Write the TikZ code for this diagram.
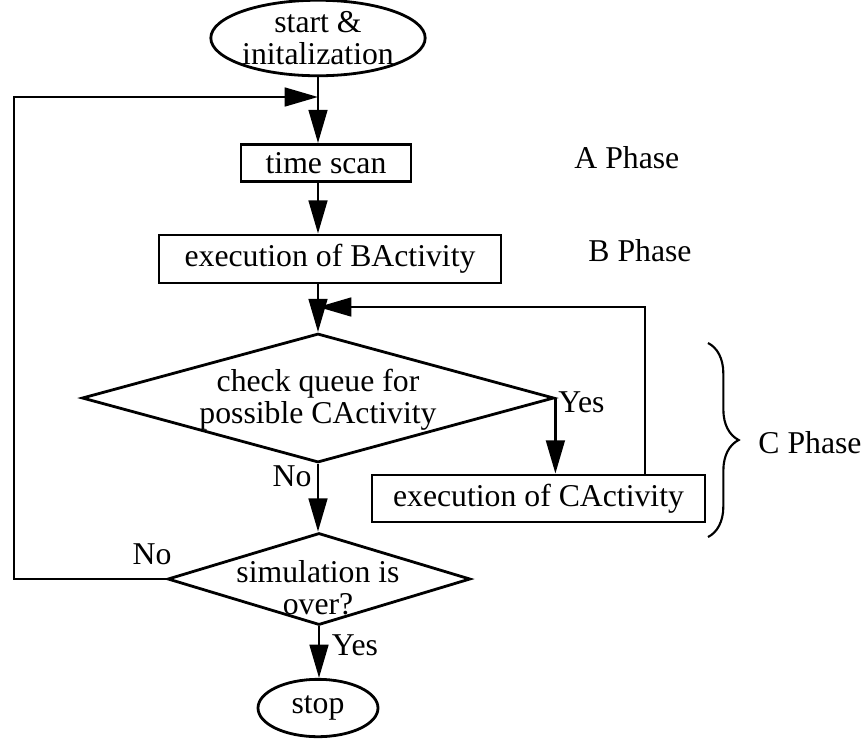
\documentclass[tikz,border=0pt]{standalone}
\usepackage{fontspec}
\setmainfont{Liberation Serif}
\usetikzlibrary{shapes.geometric,arrows.meta,decorations.pathreplacing}

\tikzset{every picture/.style={line width=2.1pt}}
\tikzset{
  flowbox/.style={draw, rectangle, inner sep=0pt},
  flowterm/.style={draw, ellipse, inner sep=0pt, align=center},
  flowdec/.style={draw, diamond, inner sep=0pt},
  flowtxt/.style={inner sep=0pt, align=center},
  flowarr/.style={-{Triangle[length=25pt,width=14pt]}},
}

\begin{document}
\begin{tikzpicture}[x=0.75pt,y=0.75pt,yscale=-1,xscale=1,font=\fontsize{23.8}{24}\selectfont]
\useasboundingbox (0,0) rectangle (866,740);

%Shape: Ellipse [start]
\node [flowterm, minimum width=123.75pt, minimum height=51pt] (start) at (318,38) {start \&\\initalization};
%Shape: Rectangle [time scan]
\node [flowbox, minimum width=127.5pt, minimum height=27.75pt] (scan) at (326,163) {time scan};
%Shape: Rectangle [B activity]
\node [flowbox, minimum width=256.5pt, minimum height=36pt] (bact) at (330,259) {execution of BActivity};
%Shape: Diamond [check queue]
\node [flowdec, minimum width=354pt, minimum height=96.75pt] (check) at (318,398) {};
\node [flowtxt] (checktxt) at (318,400) {check queue for\\possible CActivity};
%Shape: Rectangle [C activity]
\node [flowbox, minimum width=249.75pt, minimum height=35.25pt] (cact) at (538.5,498.5) {execution of CActivity};
%Shape: Diamond [simulation over]
\node [flowdec, minimum width=227pt, minimum height=69pt] (sim) at (319,579) {};
\node [flowtxt] (simtxt) at (318,588) {simulation is\\over?};
%Shape: Ellipse [stop]
\node [flowterm, minimum width=90pt, minimum height=43pt] (stop) at (318,708) {stop};

% joints of the loops
\coordinate (loopin) at (318,97);
\coordinate (loopleft) at (14,97);
\coordinate (cjoin) at (318,307);
\coordinate (cback) at (645,307);

% main line
\draw (start.south) -- (loopin);
\draw [flowarr] (loopin) -- (loopin |- scan.north);
\draw [flowarr] (scan.south -| loopin) -- (loopin |- bact.north);
\draw (bact.south -| loopin) -- (cjoin);
\draw [flowarr] (cjoin) -- (check.north);
\draw [flowarr] (check.south) -- (check.south |- sim.north);
\draw [flowarr] (sim.south) -- (sim.south |- stop.north);
% C activity loop
\draw [flowarr] (check.east) -- (check.east |- cact.north);
\draw [flowarr] (cback |- cact.north) -- (cback) -- (cjoin);
% back to time scan
\draw [flowarr] (sim.west) -- (sim.west -| loopleft) -- (loopleft) -- (loopin);

% Text Node
\node [flowtxt, anchor=west] (yescheck) at (557,402) {Yes};
% Text Node
\node [flowtxt] (nocheck) at (292,476) {No};
% Text Node
\node [flowtxt] (nosim) at (152,554) {No};
% Text Node
\node [flowtxt] (yessim) at (355,645) {Yes};
% Text Node
\node [flowtxt, anchor=west] (aphase) at (573,158) {A Phase};
% Text Node
\node [flowtxt, anchor=west] (bphase) at (587,251) {B Phase};
% Text Node
\node [flowtxt, anchor=west] (cphase) at (757,443) {C Phase};

%Shape: Brace
\draw [line width=1.6pt, decorate, decoration={brace, amplitude=23pt}] (708,343) -- (708,537);

\end{tikzpicture}
\end{document}
